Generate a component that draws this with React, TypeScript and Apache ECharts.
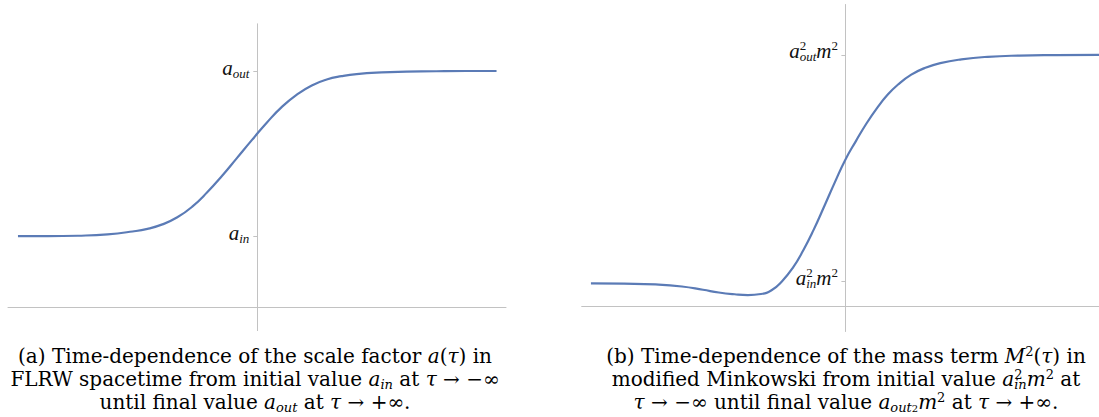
import React, { useEffect, useRef } from "react";
import * as echarts from "echarts";

// ---- data ----
const tauA = [-9.6, -8.4, -7.2, -6.0, -5.0, -4.4, -3.8, -3.2, -2.6, -2.0, -1.4, -0.8, -0.2, 0.4, 1.0, 1.6, 2.2, 2.8, 3.4, 4.0, 5.0, 6.0, 7.2, 8.4, 9.62];
const scaleFactor = [0.3, 0.3, 0.302, 0.308, 0.32, 0.331, 0.35, 0.38, 0.425, 0.486, 0.556, 0.632, 0.708, 0.782, 0.848, 0.9, 0.939, 0.964, 0.978, 0.987, 0.994, 0.997, 0.999, 1.0, 1.0];

const tauM = [-9.65, -8.4, -7.2, -6.2, -5.4, -4.8, -4.2, -3.7, -3.2, -2.8, -2.4, -2.0, -1.6, -1.2, -0.8, -0.4, 0, 0.4, 0.8, 1.2, 1.6, 2.0, 2.5, 3.0, 3.6, 4.4, 5.4, 6.6, 8.0, 9.62];
const massTerm = [0.091, 0.09, 0.087, 0.079, 0.066, 0.055, 0.048, 0.045, 0.049, 0.064, 0.1, 0.152, 0.222, 0.305, 0.398, 0.493, 0.583, 0.657, 0.727, 0.788, 0.841, 0.882, 0.921, 0.947, 0.967, 0.982, 0.992, 0.997, 0.999, 1.0];

const levelsA = [0.3, 1.0];
const labelsA = ["{a|a}{sub|in}", "{a|a}{sub|out}"];
const levelsM = [0.1, 1.0];
const labelsM = ["{a|a}{sup0|2}{sub|in}{a|m}{sup|2}", "{a|a}{sup0|2}{sub|out}{a|m}{sup|2}"];

const captionA = [
  "{t|(a) Time-dependence of the scale factor }{i|a}{t|(}{i|τ}{t|) in}",
  "{t|FLRW spacetime from initial value }{i|a}{sub|in}{t| at }{i|τ}{t| → −∞}",
  "{t|until final value }{i|a}{sub|out}{t| at }{i|τ}{t| → +∞.}",
];
const captionB = [
  "{t|(b) Time-dependence of the mass term }{i|M}{sup|2}{t|(}{i|τ}{t|) in}",
  "{t|modified Minkowski from initial value }{i|a}{sup0|2}{sub|in}{i|m}{sup|2}{t| at}",
  "{i|τ}{t| → −∞ until final value }{i|a}{sub|out}{subsup|2}{i|m}{sup|2}{t| at }{i|τ}{t| → +∞.}",
];

const SERIF = "'Liberation Serif', 'DejaVu Serif', serif";
const CAP = "'DejaVu Serif', 'Liberation Serif', serif";
const AXIS_COLOR = "#c2c2c2";
const LINE_COLOR = "#5b7bb6";

const labelRich = {
  a: { fontFamily: SERIF, fontStyle: "italic", fontSize: 21, lineHeight: 24, verticalAlign: "middle", align: "left", color: "#111" },
  sub: { fontFamily: SERIF, fontStyle: "italic", fontSize: 13, lineHeight: 12.6, verticalAlign: "bottom", align: "left", color: "#111" },
  sup: { fontFamily: SERIF, fontSize: 13, lineHeight: 9.4, verticalAlign: "top", align: "left", color: "#111" },
  sup0: { fontFamily: SERIF, fontSize: 13, lineHeight: 9.4, verticalAlign: "top", align: "left", width: 0, color: "#111" },
};

const capRich: Record<string, any> = {
  t: { fontFamily: CAP, fontSize: 20, lineHeight: 23, verticalAlign: "middle", align: "left", fill: "#000" },
  i: { fontFamily: CAP, fontStyle: "italic", fontSize: 20, lineHeight: 23, verticalAlign: "middle", align: "left", fill: "#000" },
  sub: { fontFamily: CAP, fontStyle: "italic", fontSize: 13, lineHeight: 9.2, verticalAlign: "bottom", align: "left", fill: "#000" },
  sup: { fontFamily: CAP, fontSize: 13, lineHeight: 11.6, verticalAlign: "top", align: "left", fill: "#000" },
  sup0: { fontFamily: CAP, fontSize: 13, lineHeight: 11.6, verticalAlign: "top", align: "left", width: 0, fill: "#000" },
  subsup: { fontFamily: CAP, fontSize: 10, lineHeight: 17.6, verticalAlign: "bottom", align: "left", fill: "#000" },
};

function pickLabel(levels: number[], labels: string[]) {
  return (v: number) => {
    for (let k = 0; k < levels.length; k++) if (Math.abs(v - levels[k]) < 1e-6) return labels[k];
    return "";
  };
}

const hidden = {
  axisLine: { show: false },
  axisTick: { show: false },
  axisLabel: { show: false },
  splitLine: { show: false },
};

function plotXAxis(grid: number, min: number, max: number) {
  return {
    gridIndex: grid,
    type: "value",
    min,
    max,
    axisLine: { show: true, onZero: true, lineStyle: { color: AXIS_COLOR, width: 1 } },
    axisTick: { show: false },
    axisLabel: { show: false },
    splitLine: { show: false },
  };
}

function holderXAxis(grid: number) {
  return { gridIndex: grid, type: "value", min: 0, max: 1, show: false, ...hidden };
}

function plotYAxis(grid: number) {
  return { gridIndex: grid, type: "value", min: -0.1, max: 1.2, show: false, ...hidden };
}

function levelYAxis(grid: number, levels: number[], labels: string[], margin: number) {
  return {
    gridIndex: grid,
    type: "value",
    min: -0.1,
    max: 1.2,
    axisLine: { show: true, onZero: false, lineStyle: { color: AXIS_COLOR, width: 1 } },
    axisTick: { show: true, customValues: levels, length: 4, lineStyle: { color: AXIS_COLOR } },
    axisLabel: {
      show: true,
      customValues: levels,
      formatter: pickLabel(levels, labels),
      rich: labelRich,
      margin,
      padding: [0, 0, 7, 0],
    },
    splitLine: { show: false },
  };
}

function richWidth(ctx: CanvasRenderingContext2D, line: string): number {
  const re = /\{(\w+)\|([^}]*)\}/g;
  let w = 0;
  let m: RegExpExecArray | null;
  while ((m = re.exec(line))) {
    const st = capRich[m[1]];
    if (st.width != null) {
      w += st.width;
      continue;
    }
    ctx.font = `${st.fontStyle || "normal"} normal ${st.fontSize}px ${st.fontFamily}`;
    w += ctx.measureText(m[2]).width;
  }
  return w;
}

function captionTexts(ctx: CanvasRenderingContext2D, lines: string[], cx: number) {
  return lines.map((txt, k) => ({
    type: "text",
    x: cx - richWidth(ctx, txt) / 2,
    y: 356 + 23 * k,
    silent: true,
    style: {
      text: txt,
      align: "left",
      verticalAlign: "middle",
      fontFamily: CAP,
      fontSize: 20,
      fill: "#000",
      rich: capRich,
    },
  }));
}

const gridBase = { containLabel: false, outerBoundsMode: "none" };

export default function App() {
  const ref = useRef<HTMLDivElement>(null);
  useEffect(() => {
    document.body.style.margin = "0";
    const ctx = document.createElement("canvas").getContext("2d")!;
    const chart = echarts.init(ref.current!, null, { renderer: "svg" });
    chart.setOption({
      animation: false,
      backgroundColor: "#fff",
      grid: [
        { ...gridBase, left: 8, top: 23.8, width: 498, height: 306.8 },
        { ...gridBase, left: 257.3, top: 23.8, width: 100, height: 306.8 },
        { ...gridBase, left: 581.7, top: 4.5, width: 517.3, height: 327 },
        { ...gridBase, left: 845.4, top: 4.5, width: 100, height: 327 },
      ],
      xAxis: [plotXAxis(0, -10, 10), holderXAxis(1), plotXAxis(2, -10, 9.62), holderXAxis(3)],
      yAxis: [plotYAxis(0), levelYAxis(1, levelsA, labelsA, 8), plotYAxis(2), levelYAxis(3, levelsM, labelsM, 7.4)],
      series: [
        {
          type: "line",
          xAxisIndex: 0,
          yAxisIndex: 0,
          data: tauA.map((t, i) => [t, scaleFactor[i]]),
          smooth: 0.5,
          showSymbol: false,
          silent: true,
          lineStyle: { color: LINE_COLOR, width: 2.2 },
        },
        {
          type: "line",
          xAxisIndex: 2,
          yAxisIndex: 2,
          data: tauM.map((t, i) => [t, massTerm[i]]),
          smooth: 0.5,
          showSymbol: false,
          silent: true,
          lineStyle: { color: LINE_COLOR, width: 2.2 },
        },
      ],
      graphic: [...captionTexts(ctx, captionA, 255), ...captionTexts(ctx, captionB, 846)],
    });
    return () => chart.dispose();
  }, []);
  return <div ref={ref} style={{ width: 1099, height: 417 }} />;
}
